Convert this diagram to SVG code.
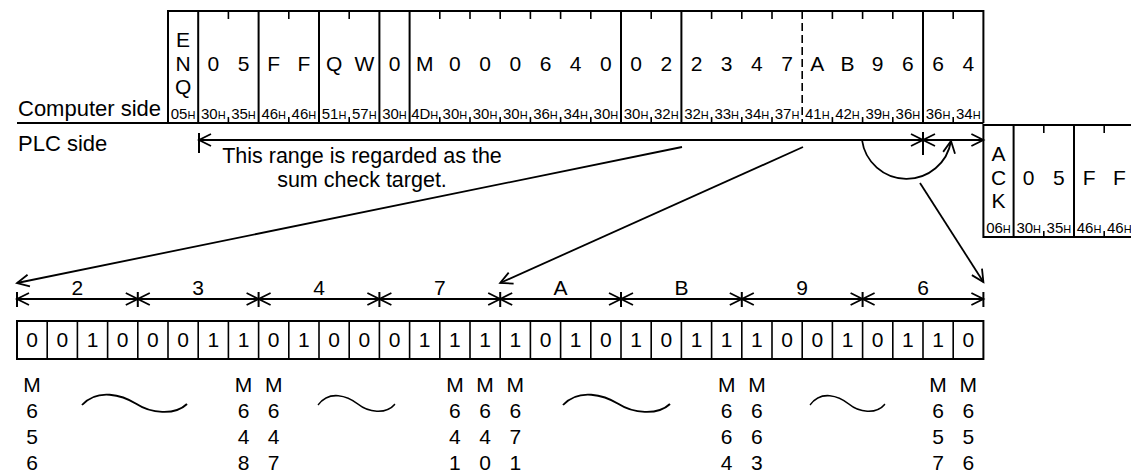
<svg xmlns="http://www.w3.org/2000/svg" width="1131" height="472" viewBox="0 0 1131 472">
<style>
text{font-family:"Liberation Sans",Arial,sans-serif;fill:#000}
.t{font-size:21px;text-anchor:middle}
.l{font-size:22px}
.n{font-size:21.5px;text-anchor:middle}
.hx{font-size:15px;text-anchor:middle}
.hs{font-size:11px}
.b{stroke:#000;stroke-width:2;fill:none}
.k{stroke:#000;stroke-width:1.6;fill:none}
.a{stroke:#000;stroke-width:1.8;fill:none}
</style>
<defs>
<marker id="ah" viewBox="-15 -9 18 18" markerWidth="18" markerHeight="18" refX="0" refY="0" orient="auto-start-reverse" markerUnits="userSpaceOnUse" overflow="visible">
<path d="M-12,-6 L0,0 L-12,6" fill="none" stroke="#000" stroke-width="1.8"/>
</marker>
<path id="wave" d="M0,0 C15,-17 38,-10 52,-1 C65,8 88,11 100,-1"/>
</defs>

<g id="labels">
<text class="l" x="18" y="116">Computer side</text>
<line class="b" x1="17" y1="123" x2="983.4" y2="123"/>
<text class="l" x="18" y="151">PLC side</text>
</g>

<g id="computer-frame">
<path class="b" d="M168,123 V11 H983.4 V123"/>
<path class="b" d="M198.2,11V123 M258.6,11V123 M319,11V123 M379.4,11V123 M409.6,11V123 M621,11V123 M681.4,11V123 M923,11V123"/>
<line class="k" x1="802.2" y1="11" x2="802.2" y2="123" stroke-dasharray="8 4"/>
<path class="k" d="M228.4,11v8 M288.8,11v8 M349.2,11v8 M439.8,11v8 M470,11v8 M500.2,11v8 M530.4,11v8 M560.6,11v8 M590.8,11v8 M651.2,11v8 M711.6,11v8 M741.8,11v8 M772,11v8 M832.4,11v8 M862.6,11v8 M892.8,11v8 M953.2,11v8"/>
<path class="k" d="M228.4,123v-6 M288.8,123v-6 M349.2,123v-6 M439.8,123v-6 M470,123v-6 M500.2,123v-6 M530.4,123v-6 M560.6,123v-6 M590.8,123v-6 M651.2,123v-6 M711.6,123v-6 M741.8,123v-6 M772,123v-6 M832.4,123v-6 M862.6,123v-6 M892.8,123v-6 M953.2,123v-6"/>
<text class="t" x="183.1" y="47">E</text>
<text class="t" x="183.1" y="71">N</text>
<text class="t" x="183.1" y="94">Q</text>
<text class="t" y="71"><tspan x="213.3">0</tspan><tspan x="243.5">5</tspan><tspan x="273.7">F</tspan><tspan x="303.9">F</tspan><tspan x="334.1">Q</tspan><tspan x="364.3">W</tspan><tspan x="394.5">0</tspan><tspan x="424.7">M</tspan><tspan x="454.9">0</tspan><tspan x="485.1">0</tspan><tspan x="515.3">0</tspan><tspan x="545.5">6</tspan><tspan x="575.7">4</tspan><tspan x="605.9">0</tspan><tspan x="636.1">0</tspan><tspan x="666.3">2</tspan><tspan x="696.5">2</tspan><tspan x="726.7">3</tspan><tspan x="756.9">4</tspan><tspan x="787.1">7</tspan><tspan x="817.3">A</tspan><tspan x="847.5">B</tspan><tspan x="877.7">9</tspan><tspan x="907.9">6</tspan><tspan x="938.1">6</tspan><tspan x="968.3">4</tspan></text>
<text class="hx" x="183.1" y="119">05<tspan class="hs">H</tspan></text>
<text class="hx" x="213.3" y="119">30<tspan class="hs">H</tspan></text>
<text class="hx" x="243.5" y="119">35<tspan class="hs">H</tspan></text>
<text class="hx" x="273.7" y="119">46<tspan class="hs">H</tspan></text>
<text class="hx" x="303.9" y="119">46<tspan class="hs">H</tspan></text>
<text class="hx" x="334.1" y="119">51<tspan class="hs">H</tspan></text>
<text class="hx" x="364.3" y="119">57<tspan class="hs">H</tspan></text>
<text class="hx" x="394.5" y="119">30<tspan class="hs">H</tspan></text>
<text class="hx" x="424.7" y="119">4D<tspan class="hs">H</tspan></text>
<text class="hx" x="454.9" y="119">30<tspan class="hs">H</tspan></text>
<text class="hx" x="485.1" y="119">30<tspan class="hs">H</tspan></text>
<text class="hx" x="515.3" y="119">30<tspan class="hs">H</tspan></text>
<text class="hx" x="545.5" y="119">36<tspan class="hs">H</tspan></text>
<text class="hx" x="575.7" y="119">34<tspan class="hs">H</tspan></text>
<text class="hx" x="605.9" y="119">30<tspan class="hs">H</tspan></text>
<text class="hx" x="636.1" y="119">30<tspan class="hs">H</tspan></text>
<text class="hx" x="666.3" y="119">32<tspan class="hs">H</tspan></text>
<text class="hx" x="696.5" y="119">32<tspan class="hs">H</tspan></text>
<text class="hx" x="726.7" y="119">33<tspan class="hs">H</tspan></text>
<text class="hx" x="756.9" y="119">34<tspan class="hs">H</tspan></text>
<text class="hx" x="787.1" y="119">37<tspan class="hs">H</tspan></text>
<text class="hx" x="817.3" y="119">41<tspan class="hs">H</tspan></text>
<text class="hx" x="847.5" y="119">42<tspan class="hs">H</tspan></text>
<text class="hx" x="877.7" y="119">39<tspan class="hs">H</tspan></text>
<text class="hx" x="907.9" y="119">36<tspan class="hs">H</tspan></text>
<text class="hx" x="938.1" y="119">36<tspan class="hs">H</tspan></text>
<text class="hx" x="968.3" y="119">34<tspan class="hs">H</tspan></text>
</g>

<g id="plc-frame">
<path class="b" d="M1131,125 H983.4 V237 H1131 M1013.6,125V237 M1074,125V237"/>
<path class="k" d="M1043.8,125v8 M1104.2,125v8 M1043.8,237v-6 M1104.2,237v-6"/>
<text class="t" x="998.5" y="161">A</text>
<text class="t" x="998.5" y="185">C</text>
<text class="t" x="998.5" y="208">K</text>
<text class="t" y="185"><tspan x="1028.7">0</tspan><tspan x="1058.9">5</tspan><tspan x="1089.1">F</tspan><tspan x="1119.3">F</tspan></text>
<text class="hx" x="998.5" y="233">06<tspan class="hs">H</tspan></text>
<text class="hx" x="1028.7" y="233">30<tspan class="hs">H</tspan></text>
<text class="hx" x="1058.9" y="233">35<tspan class="hs">H</tspan></text>
<text class="hx" x="1089.1" y="233">46<tspan class="hs">H</tspan></text>
<text class="hx" x="1119.3" y="233">46<tspan class="hs">H</tspan></text>
</g>

<g id="sum-range">
<line class="a" x1="199" y1="140" x2="923" y2="140" marker-start="url(#ah)" marker-end="url(#ah)"/>
<line class="a" x1="923" y1="140" x2="983.4" y2="140" marker-start="url(#ah)" marker-end="url(#ah)"/>
<path class="b" d="M199,133V153 M923,132V155"/>
<text class="n" x="362" y="163">This range is regarded as the</text>
<text class="n" x="362" y="187">sum check target.</text>
</g>

<g id="bit-dimension">
<line class="a" x1="17" y1="299" x2="137.8" y2="299" marker-start="url(#ah)" marker-end="url(#ah)"/>
<line class="a" x1="137.8" y1="299" x2="258.6" y2="299" marker-start="url(#ah)" marker-end="url(#ah)"/>
<line class="a" x1="258.6" y1="299" x2="379.4" y2="299" marker-start="url(#ah)" marker-end="url(#ah)"/>
<line class="a" x1="379.4" y1="299" x2="500.2" y2="299" marker-start="url(#ah)" marker-end="url(#ah)"/>
<line class="a" x1="500.2" y1="299" x2="621" y2="299" marker-start="url(#ah)" marker-end="url(#ah)"/>
<line class="a" x1="621" y1="299" x2="741.8" y2="299" marker-start="url(#ah)" marker-end="url(#ah)"/>
<line class="a" x1="741.8" y1="299" x2="862.6" y2="299" marker-start="url(#ah)" marker-end="url(#ah)"/>
<line class="a" x1="862.6" y1="299" x2="983.4" y2="299" marker-start="url(#ah)" marker-end="url(#ah)"/>
<path class="b" d="M17,292V307 M137.8,292V307 M258.6,292V307 M379.4,292V307 M500.2,292V307 M621,292V307 M741.8,292V307 M862.6,292V307 M983.4,292V307"/>
<text class="t" y="295"><tspan x="77.4">2</tspan><tspan x="198.2">3</tspan><tspan x="319">4</tspan><tspan x="439.8">7</tspan><tspan x="560.6">A</tspan><tspan x="681.4">B</tspan><tspan x="802.2">9</tspan><tspan x="923">6</tspan></text>
</g>

<g id="bits">
<rect class="b" x="17" y="321" width="966.4" height="38"/>
<path class="k" d="M47.2,321V359 M77.4,321V359 M107.6,321V359 M137.8,321V359 M168,321V359 M198.2,321V359 M228.4,321V359 M258.6,321V359 M288.8,321V359 M319,321V359 M349.2,321V359 M379.4,321V359 M409.6,321V359 M439.8,321V359 M470,321V359 M500.2,321V359 M530.4,321V359 M560.6,321V359 M590.8,321V359 M621,321V359 M651.2,321V359 M681.4,321V359 M711.6,321V359 M741.8,321V359 M772,321V359 M802.2,321V359 M832.4,321V359 M862.6,321V359 M892.8,321V359 M923,321V359 M953.2,321V359"/>
<text class="t" y="347"><tspan x="32.1">0</tspan><tspan x="62.3">0</tspan><tspan x="92.5">1</tspan><tspan x="122.7">0</tspan><tspan x="152.9">0</tspan><tspan x="183.1">0</tspan><tspan x="213.3">1</tspan><tspan x="243.5">1</tspan><tspan x="273.7">0</tspan><tspan x="303.9">1</tspan><tspan x="334.1">0</tspan><tspan x="364.3">0</tspan><tspan x="394.5">0</tspan><tspan x="424.7">1</tspan><tspan x="454.9">1</tspan><tspan x="485.1">1</tspan><tspan x="515.3">1</tspan><tspan x="545.5">0</tspan><tspan x="575.7">1</tspan><tspan x="605.9">0</tspan><tspan x="636.1">1</tspan><tspan x="666.3">0</tspan><tspan x="696.5">1</tspan><tspan x="726.7">1</tspan><tspan x="756.9">1</tspan><tspan x="787.1">0</tspan><tspan x="817.3">0</tspan><tspan x="847.5">1</tspan><tspan x="877.7">0</tspan><tspan x="907.9">1</tspan><tspan x="938.1">1</tspan><tspan x="968.3">0</tspan></text>
</g>

<g id="device-labels">
<text class="t" y="392"><tspan x="32.1">M</tspan><tspan x="243.5">M</tspan><tspan x="273.7">M</tspan><tspan x="454.9">M</tspan><tspan x="485.1">M</tspan><tspan x="515.3">M</tspan><tspan x="726.7">M</tspan><tspan x="756.9">M</tspan><tspan x="938.1">M</tspan><tspan x="968.3">M</tspan></text>
<text class="t" y="418"><tspan x="32.1">6</tspan><tspan x="243.5">6</tspan><tspan x="273.7">6</tspan><tspan x="454.9">6</tspan><tspan x="485.1">6</tspan><tspan x="515.3">6</tspan><tspan x="726.7">6</tspan><tspan x="756.9">6</tspan><tspan x="938.1">6</tspan><tspan x="968.3">6</tspan></text>
<text class="t" y="444"><tspan x="32.1">5</tspan><tspan x="243.5">4</tspan><tspan x="273.7">4</tspan><tspan x="454.9">4</tspan><tspan x="485.1">4</tspan><tspan x="515.3">7</tspan><tspan x="726.7">6</tspan><tspan x="756.9">6</tspan><tspan x="938.1">5</tspan><tspan x="968.3">5</tspan></text>
<text class="t" y="470"><tspan x="32.1">6</tspan><tspan x="243.5">8</tspan><tspan x="273.7">7</tspan><tspan x="454.9">1</tspan><tspan x="485.1">0</tspan><tspan x="515.3">1</tspan><tspan x="726.7">4</tspan><tspan x="756.9">3</tspan><tspan x="938.1">7</tspan><tspan x="968.3">6</tspan></text>
<g class="a">
<use href="#wave" transform="translate(82,405) scale(1.05,1)" vector-effect="non-scaling-stroke"/>
<use href="#wave" transform="translate(318,405) scale(0.77,0.9)" vector-effect="non-scaling-stroke"/>
<use href="#wave" transform="translate(563,405) scale(1.07,1)" vector-effect="non-scaling-stroke"/>
<use href="#wave" transform="translate(810,405) scale(0.75,0.9)" vector-effect="non-scaling-stroke"/>
</g>
</g>

<g id="connectors">
<line class="a" x1="682" y1="147" x2="17" y2="283" marker-end="url(#ah)"/>
<line class="a" x1="803" y1="147" x2="500.2" y2="283" marker-end="url(#ah)"/>
<path class="a" d="M862,140 A45,45 0 0 0 951,141" marker-end="url(#ah)"/>
<line class="a" x1="920" y1="183" x2="983.4" y2="282" marker-end="url(#ah)"/>
</g>
</svg>
